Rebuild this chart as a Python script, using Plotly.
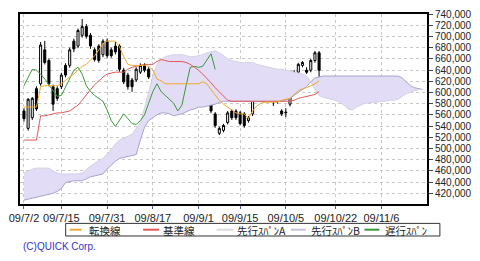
import plotly.graph_objects as go

# ---- data (yen) ----
tick_idx = [0, 9, 20, 31, 42, 52, 63, 75, 86]
tick_labels = ["09/7/2", "09/7/15", "09/7/31", "09/8/17", "09/9/1", "09/9/15", "09/10/5", "09/10/22", "09/11/6"]

open_ = [567000, 535900, 554900, 606800, 615500, 676000, 657000, 610300, 606800, 610300,
         648300, 648300, 691600, 682900, 702000, 717500, 702000, 676000, 682900, 667400,
         691600, 676000, 682900, 682900, 639700, 631000, 622400, 622400, 636200, 648300,
         641400, 622400, 606800, 593000, 596400, 593000, 615500, 613700, 624100, 641400,
         622400, 610300, 601600, 593000, 593000, 593000, 561800, 527200, 532400, 546300,
         567000, 567000, 563600, 561800, 549700, 561800, 598200, 605100, 610300, 598200,
         593000, 585000, 567000, 565000, 579100, 606800, 636200, 648300, 639700, 639700,
         657000, 670800]
close = [553200, 587800, 589500, 570500, 684600, 653500, 615500, 579100, 589500, 631000,
         631000, 676000, 677700, 710600, 717500, 700200, 682900, 658700, 657000, 691600,
         665600, 665600, 672500, 641400, 618900, 610300, 610300, 641400, 648300, 639700,
         627600, 605100, 593000, 605100, 587800, 606800, 613700, 631000, 648300, 624100,
         606800, 596400, 591200, 592000, 589500, 567000, 541100, 535900, 541100, 563600,
         554900, 554900, 544500, 541100, 554900, 596400, 615500, 622400, 593000, 587800,
         587800, 584000, 561800, 564000, 601600, 636200, 650100, 653500, 636200, 657000,
         670800, 639700]
high = [572000, 590000, 592000, 611000, 690000, 692000, 661000, 614000, 611000, 635000,
        652000, 680000, 696000, 714000, 731000, 722000, 706000, 680000, 686000, 695000,
        696000, 680000, 690000, 686000, 644000, 635000, 626000, 645000, 652000, 652000,
        645000, 626000, 610000, 609000, 600000, 610000, 618000, 634000, 651000, 645000,
        626000, 613000, 605000, 596000, 596000, 596000, 565000, 539000, 544000, 567000,
        570000, 570000, 567000, 565000, 558000, 600000, 619000, 626000, 613000, 601000,
        596000, 588000, 570000, 572000, 606000, 640000, 653000, 656000, 645000, 660000,
        674000, 674000]
low = [548000, 532000, 551000, 567000, 612000, 650000, 611000, 567000, 585000, 606000,
       627000, 644000, 672000, 679000, 698000, 696000, 678000, 655000, 653000, 663000,
       662000, 662000, 668000, 637000, 615000, 605000, 601000, 619000, 633000, 636000,
       624000, 601000, 589000, 590000, 579000, 590000, 610000, 610000, 620000, 620000,
       603000, 592000, 588000, 589000, 586000, 563000, 537000, 524000, 529000, 543000,
       551000, 551000, 541000, 537000, 546000, 558000, 595000, 602000, 590000, 584000,
       576000, 580000, 558000, 556000, 575000, 603000, 633000, 645000, 633000, 636000,
       653000, 627000]

tenkan = [574000, 574000, 574000, 574000, 610300, 612000, 612000, 612000, 612000, 615500,
          622400, 627600, 632800, 639700, 646600, 650100, 657000, 665600, 676000, 686400,
          691600, 691600, 691600, 681200, 663900, 650100, 648300, 648300, 648300, 648300,
          646600, 639700, 624100, 620700, 615500, 615500, 615500, 615500, 615500, 615500,
          615500, 615500, 615500, 618900, 615500, 605100, 594700, 586100, 579100, 573900,
          568800, 563600, 561800, 561800, 553200, 567000, 575700, 580900, 582600, 582600,
          582600, 582600, 586100, 587800, 589500, 596400, 603400, 606800, 608500, 612000,
          615500, 620700]
kijun = [515100, 515100, 515100, 515100, 558400, 558400, 560100, 561800, 563600, 563600,
         565300, 567000, 572200, 577400, 586100, 596400, 605100, 613700, 620700, 627600,
         632800, 634500, 636200, 636200, 636200, 641400, 644900, 646600, 648300, 650100,
         650100, 650100, 655200, 658700, 657000, 655200, 655200, 655200, 655200, 653500,
         650100, 644900, 639700, 632800, 625800, 617200, 608500, 601600, 593000, 586100,
         584300, 584300, 584300, 584300, 584300, 584300, 584300, 584300, 584300, 584300,
         584300, 584300, 584300, 584300, 584300, 586100, 589500, 591200, 593000, 594700,
         596400, 601600]
chikou = [612000, 627600, 641400, 639700, 632800, 624100, 613700, 601600, 593000, 594700,
          610300, 624100, 639700, 644900, 632800, 612000, 601600, 594700, 589500, 584300,
          568800, 549700, 539400, 549700, 561800, 553200, 544500, 542800, 549700, 560100,
          580900, 601600, 615500, 601600, 594700, 587800, 580900, 567000, 577400, 612000,
          644900, 646600, 644900, 646600, 657000, 669100, 641400]
senkou_a = [456300, 459800, 463200, 465000, 465000, 465000, 465000, 459800, 456300, 454600,
            454600, 454600, 454600, 454600, 456300, 463200, 468400, 473600, 478800, 482300,
            489200, 497800, 508200, 515100, 518600, 522100, 525500, 535900, 546300, 572200,
            601600, 629300, 650100, 658700, 663900, 665600, 667400, 667400, 667400, 665600,
            663900, 663900, 665600, 667400, 670800, 672500, 674300, 670800, 665600, 660400,
            657000, 655200, 653500, 653500, 653500, 653500, 650100, 648300, 646600, 644900,
            643100, 641400, 641400, 639700, 637900, 636200, 634500, 632800, 629300, 618900,
            605100, 594700, 591200, 589500, 587800, 586100, 582600, 577400, 570500, 568800,
            573900, 577400, 580900, 580900, 582600, 582600, 584300, 584300, 586100, 586100,
            587800, 593000, 598200, 599900, 603400, 605100, 605100]
senkou_b = [407900, 409600, 411400, 413100, 414800, 416500, 418300, 420000, 423500, 428700,
            439000, 440800, 442500, 442500, 442500, 446000, 449400, 451100, 452900, 454600,
            463200, 470200, 477100, 482300, 484000, 485700, 487500, 489200, 515100, 537600,
            549700, 554900, 560100, 563600, 563600, 561800, 558400, 560100, 561800, 565300,
            568800, 570500, 573900, 573900, 575700, 577400, 579100, 582600, 584300, 584300,
            584300, 584300, 584300, 584300, 584300, 584300, 584300, 584300, 584300, 584300,
            584300, 584300, 584300, 586100, 589500, 594700, 599900, 605100, 610300, 618900,
            625800, 627600, 629300, 629300, 629300, 629300, 629300, 629300, 629300, 629300,
            629300, 629300, 629300, 629300, 629300, 629300, 629300, 629300, 629300, 629300,
            629300, 625800, 618900, 612000, 608500, 606800, 605100]

legend_names = ["転換線", "基準線", "先行ｽﾊﾟﾝA", "先行ｽﾊﾟﾝB", "遅行ｽﾊﾟﾝ"]
y_ticks = list(range(420000, 740001, 20000))

# ---- styles ----
C_TENKAN = "#f0a830"
C_KIJUN = "#e05a5a"
C_A = "#d4d2e2"
C_B = "#a8a4cc"
C_CHIKOU = "#3a9a3a"
C_CLOUD = "#e2dcf6"

W, H = 480, 261
ML, MR, MT, MB = 20, 50, 8, 57
PW, PH = W - ML - MR, H - MT - MB


def px(x):
    return (x - ML) / PW


def py(y):
    return (MT + PH - y) / PH


n = len(open_)
xs = list(range(n))

fig = go.Figure()
fig.add_trace(go.Scatter(x=list(range(len(senkou_b))), y=senkou_b, mode="lines",
                         line=dict(color=C_B, width=1), showlegend=False, hoverinfo="skip"))
fig.add_trace(go.Scatter(x=list(range(len(senkou_a))), y=senkou_a, mode="lines",
                         line=dict(color=C_A, width=1), fill="tonexty", fillcolor=C_CLOUD,
                         showlegend=False, hoverinfo="skip"))
fig.add_trace(go.Scatter(x=list(range(len(chikou))), y=chikou, mode="lines",
                         line=dict(color=C_CHIKOU, width=1), showlegend=False))
fig.add_trace(go.Scatter(x=xs, y=kijun, mode="lines",
                         line=dict(color=C_KIJUN, width=1), showlegend=False))
fig.add_trace(go.Scatter(x=xs, y=tenkan, mode="lines",
                         line=dict(color=C_TENKAN, width=1), showlegend=False))
fig.add_trace(go.Candlestick(x=xs, open=open_, high=high, low=low, close=close,
                             increasing=dict(line=dict(color="black", width=1), fillcolor="white"),
                             decreasing=dict(line=dict(color="black", width=1), fillcolor="black"),
                             whiskerwidth=0, showlegend=False))

grid_dash = "3px,3px"
fig.update_layout(
    width=W, height=H, margin=dict(l=ML, r=MR, t=MT, b=MB),
    paper_bgcolor="white", plot_bgcolor="white",
    showlegend=False,
    xaxis=dict(range=[-0.955, 96.96], tickmode="array", tickvals=tick_idx, ticktext=tick_labels,
               showgrid=True, gridcolor="#c8c8c8", gridwidth=1, griddash=grid_dash,
               zeroline=False, showline=True, linecolor="black", linewidth=2, mirror=True,
               ticks="outside", ticklen=3, tickcolor="#5a5aa8",
               tickfont=dict(family="Liberation Sans, Arial, sans-serif", size=11, color="#222"),
               rangeslider=dict(visible=False), fixedrange=True),
    yaxis=dict(range=[401000, 740000], side="right", tickmode="array", tickvals=y_ticks,
               tickformat=",d", showgrid=True, gridcolor="#c8c8c8", gridwidth=1, griddash=grid_dash,
               zeroline=False, showline=True, linecolor="black", linewidth=2, mirror=True,
               ticks="outside", ticklen=4, tickcolor="#444",
               tickfont=dict(family="Liberation Sans, Arial, sans-serif", size=10, color="#222"),
               fixedrange=True),
)

# ---- manual legend ----
shapes = [dict(type="rect", xref="paper", yref="paper", x0=px(66), x1=px(443), y0=py(237), y1=py(224),
               line=dict(color="#333", width=1), fillcolor="white", layer="above")]
sw_colors = [C_TENKAN, C_KIJUN, "#dcdcdc", "#c4c4dc", C_CHIKOU]
sw_x = [(70, 82), (144, 160), (218, 235), (293, 308), (367, 382)]
txt_x = [89, 163, 238, 312, 387]
annotations = []
for name, col, (a, b), tx in zip(legend_names, sw_colors, sw_x, txt_x):
    shapes.append(dict(type="line", xref="paper", yref="paper", x0=px(a), x1=px(b), y0=py(230.5), y1=py(230.5),
                       line=dict(color=col, width=2), layer="above"))
    annotations.append(dict(xref="paper", yref="paper", x=px(tx), y=py(231), xanchor="left", yanchor="middle",
                            text=name, showarrow=False, borderpad=0, height=11, valign="middle",
                            font=dict(family="Noto Sans CJK JP", size=10.5, color="#222")))
annotations.append(dict(xref="paper", yref="paper", x=px(22), y=py(248), xanchor="left", yanchor="middle",
                        text="(C)QUICK Corp.", showarrow=False, borderpad=0,
                        font=dict(family="Liberation Sans, Arial, sans-serif", size=10, color="#3333cc")))
fig.update_layout(shapes=shapes, annotations=annotations)

fig.write_html("out.html")
